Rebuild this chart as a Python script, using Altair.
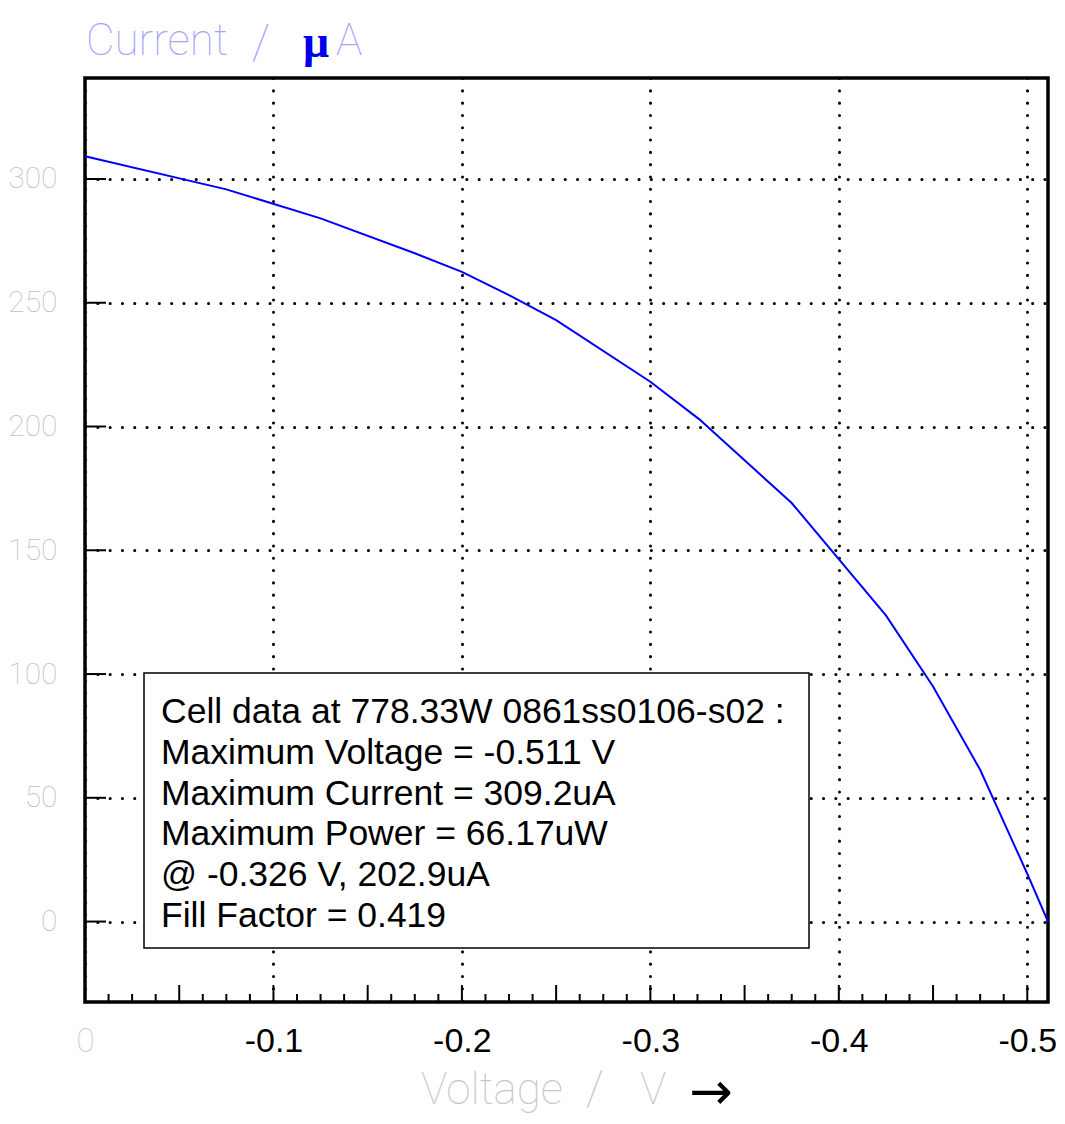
import altair as alt
import pandas as pd

# ---- data ----
voltage = [0.0, -0.075, -0.125, -0.175, -0.2, -0.225, -0.25, -0.3, -0.326,
           -0.375, -0.425, -0.45, -0.475, -0.5, -0.511]
current = [309.2, 295.8, 284.1, 270.0, 262.5, 253.1, 243.0, 218.1, 202.9,
           169.1, 123.7, 95.0, 61.3, 19.3, 0.0]

x_tick_values = [0.0, -0.1, -0.2, -0.3, -0.4, -0.5]
y_tick_values = [0, 50, 100, 150, 200, 250, 300]
x_minor_short = [-0.0125 * k for k in range(41) if k % 4 != 0]
x_minor_long = [-0.05 * k for k in range(11)]

x_domain = [0.0, -0.511]
y_domain = [-32.5, 340.8]

legend_lines = [
    "Cell data at 778.33W 0861ss0106-s02 :",
    "Maximum Voltage = -0.511 V",
    "Maximum Current = 309.2uA",
    "Maximum Power = 66.17uW",
    "@ -0.326 V, 202.9uA",
    "Fill Factor = 0.419",
]
y_title_parts = ["Current", "/", "\u03bc", "A"]
x_title_parts = ["Voltage", "/", "V", "\u2192"]

W, H = 963, 924
xs = alt.Scale(domain=x_domain, nice=False, zero=False)
ys = alt.Scale(domain=y_domain, nice=False, zero=False)

df = pd.DataFrame({"V": voltage, "I": current})

grid_kw = dict(grid=True, gridColor="black", gridDash=[0.1, 12.2], gridWidth=3,
               gridCap="round", gridOpacity=1)

x_axis = alt.Axis(
    values=x_tick_values, title=None, domain=False, ticks=False, tickSize=0,
    labelPadding=22, labelFontSize=34,
    labelExpr="datum.value === 0 ? '0' : '' + datum.value",
    labelFont={"condition": {"test": "datum.value === 0", "value": "Roboto"},
               "value": "Liberation Sans"},
    labelColor={"condition": {"test": "datum.value === 0", "value": "#c8c8c8"},
                "value": "black"},
    labelFontWeight={"condition": {"test": "datum.value === 0", "value": 100},
                     "value": 400},
    labelFlush=False, labelOverlap=False, **grid_kw)

y_axis = alt.Axis(
    values=y_tick_values, title=None, domain=False, ticks=False, tickSize=0,
    labelPadding=28, labelFontSize=30, labelFont="Roboto", labelFontWeight=100,
    labelColor="#c0c0c0", labelOverlap=False, labelFlush=False, **grid_kw)

line = alt.Chart(df).mark_line(color="#0000ff", strokeWidth=2).encode(
    x=alt.X("V:Q", scale=xs, axis=x_axis),
    y=alt.Y("I:Q", scale=ys, axis=y_axis),
)

short_ticks = alt.Chart(pd.DataFrame({"V": x_minor_short})).mark_rule(
    color="black", strokeWidth=2).encode(
    x=alt.X("V:Q", scale=xs, axis=x_axis), y=alt.value(H), y2=alt.value(H - 8))

long_ticks = alt.Chart(pd.DataFrame({"V": x_minor_long})).mark_rule(
    color="black", strokeWidth=2).encode(
    x=alt.X("V:Q", scale=xs, axis=x_axis), y=alt.value(H), y2=alt.value(H - 17))

y_ticks = alt.Chart(pd.DataFrame({"I": y_tick_values})).mark_rule(
    color="black", strokeWidth=2).encode(
    y=alt.Y("I:Q", scale=ys, axis=y_axis), x=alt.value(0), x2=alt.value(21))

one = pd.DataFrame({"a": [0]})

box = alt.Chart(one).mark_rect(fill="white", stroke="black", strokeWidth=1.5).encode(
    x=alt.value(59), x2=alt.value(724), y=alt.value(595), y2=alt.value(870))

legend_text = alt.Chart(one).mark_text(
    text=legend_lines, align="left", baseline="alphabetic", fontSize=35.5,
    font="Liberation Sans", lineHeight=40.8, color="black").encode(
    x=alt.value(76), y=alt.value(645))


def label(txt, x, y, color, size, font="Roboto", weight=100, align="left",
          baseline="alphabetic"):
    return alt.Chart(one).mark_text(
        text=txt, align=align, baseline=baseline, fontSize=size, font=font,
        fontWeight=weight, color=color).encode(x=alt.value(x), y=alt.value(y))


lav = "#a4a4f6"
gray = "#c8c8c8"
titles = [
    label(y_title_parts[0], 1, -23, lav, 44),
    label(y_title_parts[1], 176, -20, lav, 48, align="center"),
    label(y_title_parts[2], 231, -21, "#0000ee", 46, font="Liberation Serif",
          weight="bold", align="center"),
    label(y_title_parts[3], 251, -23, lav, 44),
    label(x_title_parts[0], 336, 1026, gray, 44),
    label(x_title_parts[1], 510, 1026, gray, 48, align="center"),
    label(x_title_parts[2], 555, 1026, gray, 44),
    label(x_title_parts[3], 626, 1015, "black", 52, font="DejaVu Sans",
          weight=400, align="center", baseline="middle"),
]

chart = alt.layer(line, short_ticks, long_ticks, y_ticks, box, legend_text, *titles).properties(
    width=W, height=H,
    autosize=alt.AutoSizeParams(type="none"),
    padding={"left": 77, "top": 70, "right": 8, "bottom": 114},
    background="white",
).configure_view(stroke="black", strokeWidth=3.5)

chart.save("out.html", embed_options={"renderer": "svg", "actions": False})
